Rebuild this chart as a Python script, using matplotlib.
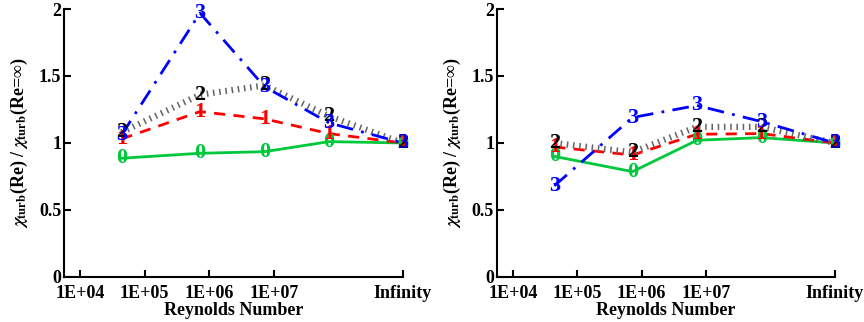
import numpy as np
import matplotlib
matplotlib.use("Agg")
import matplotlib.pyplot as plt

plt.rcParams['font.family'] = ['Liberation Serif', 'DejaVu Serif']
plt.rcParams['font.weight'] = 'bold'
plt.rcParams['mathtext.fontset'] = 'stix'

# Reynolds numbers; "Infinity" is drawn at 1E+09
reynolds = [4.4e4, 7.2e5, 7.2e6, 7.2e7, 1e9]
tick_pos = [1e4, 1e5, 1e6, 1e7, 1e9]
tick_labels = ['1E+04', '1E+05', '1E+06', '1E+07', 'Infinity']
series_names = ['0', '1', '2', '3']

left_vals = [
    [0.886, 0.923, 0.935, 1.01, 1.0],
    [1.03, 1.234, 1.18, 1.07, 1.0],
    [1.08, 1.36, 1.43, 1.2, 1.0],
    [1.06, 1.97, 1.42, 1.15, 1.0],
]
right_vals = [
    [0.90, 0.786, 1.02, 1.04, 1.0],
    [0.97, 0.91, 1.065, 1.07, 1.0],
    [1.0, 0.93, 1.12, 1.12, 1.0],
    [0.68, 1.19, 1.28, 1.16, 1.0],
]

colors = ['#00c83c', 'red', 'black', 'blue']
styles = ['-', (0, (4, 3)), (0, (0.25, 0.75)), (0, (6, 3, 1, 3))]
widths = [2, 2, 4.5, 2]
line_colors = ['#00c83c', 'red', '0.4', 'blue']

fig = plt.figure(figsize=(8.64, 3.22), dpi=100)
ax1 = fig.add_axes([0.074, 0.14, 0.393, 0.832])
ax2 = fig.add_axes([0.575, 0.14, 0.392, 0.832])

for ax, data in [(ax1, left_vals), (ax2, right_vals)]:
    for i, vals in enumerate(data):
        ax.plot(reynolds, vals, color=line_colors[i], linestyle=styles[i],
                linewidth=widths[i], zorder=2 + i)
        for x, y in zip(reynolds, vals):
            ax.text(x, y, series_names[i], color=colors[i], fontsize=16,
                    fontweight='bold', ha='center', va='center', zorder=10 + i)
    ax.set_xscale('log')
    ax.set_xlim(10 ** 3.75, 10 ** 9.01)
    ax.set_ylim(0, 2)
    ax.set_xticks(tick_pos)
    ax.set_xticklabels(tick_labels)
    ax.xaxis.set_minor_locator(matplotlib.ticker.NullLocator())
    ax.set_yticks([0, 0.5, 1, 1.5, 2])
    ax.set_yticklabels(['0', '0.5', '1', '1.5', '2'])
    ax.tick_params(direction='in', length=5, width=1.5, labelsize=13)
    ax.tick_params(axis='x', pad=6)
    ax.tick_params(axis='y', pad=2)
    for lab in ax.get_xticklabels() + ax.get_yticklabels():
        lab.set_fontweight('bold')
    for s in ['top', 'right']:
        ax.spines[s].set_visible(False)
    for s in ['left', 'bottom']:
        ax.spines[s].set_linewidth(1.5)
    ax.set_xlabel('Reynolds Number', fontsize=13, fontweight='bold', labelpad=0)
    ax.set_ylabel(r'$\chi_{\mathbf{turb}}$(Re) / $\chi_{\mathbf{turb}}$(Re=∞)',
                  fontsize=13, fontweight='bold', labelpad=6)

fig.savefig('out.png', dpi=100)
